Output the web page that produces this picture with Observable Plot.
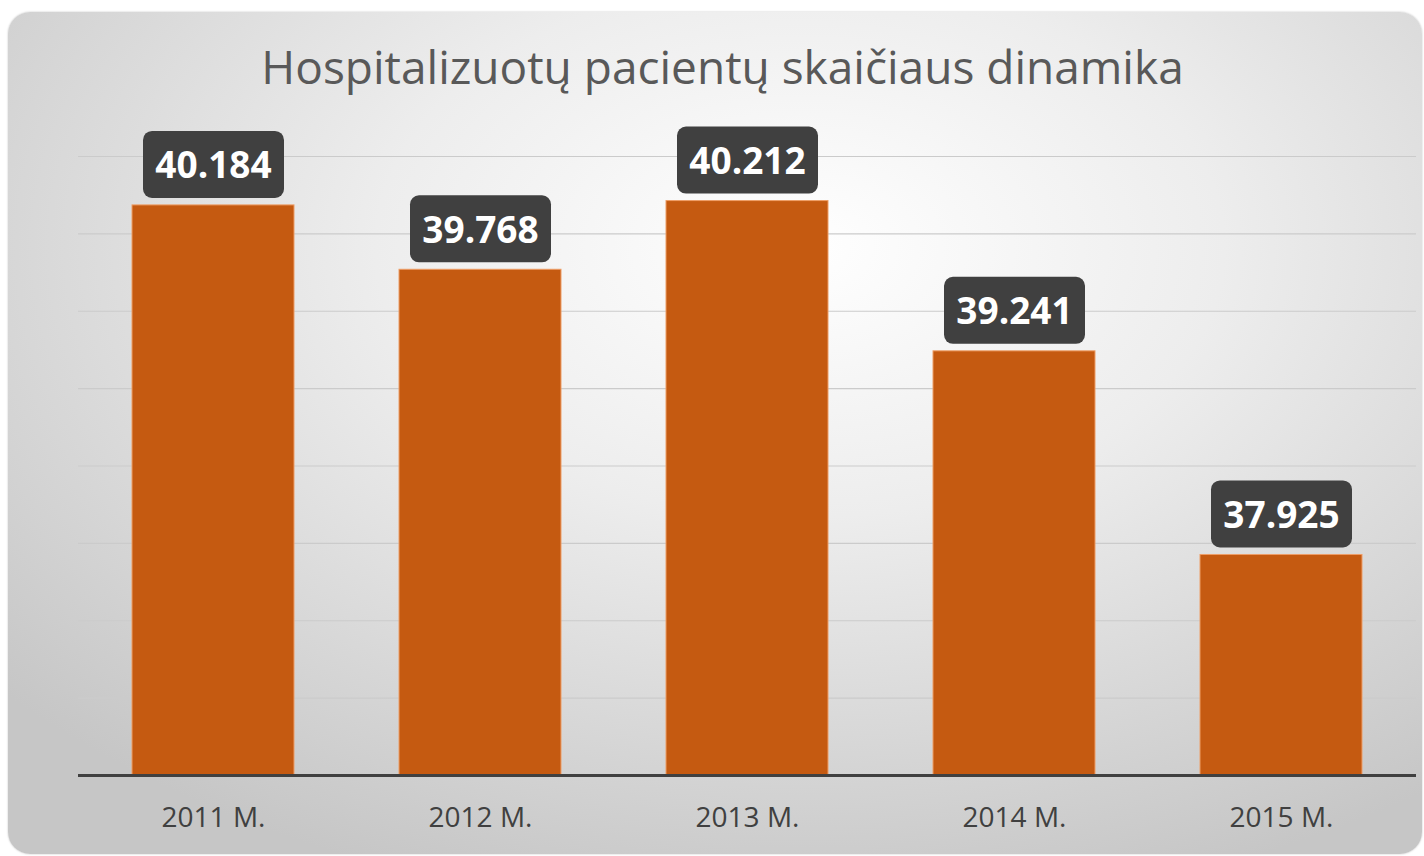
<!DOCTYPE html>
<html>
<head>
<meta charset="utf-8">
<script src="https://cdn.jsdelivr.net/npm/d3@7"></script>
<script src="https://cdn.jsdelivr.net/npm/@observablehq/plot@0.6"></script>
<style>
  html, body { margin: 0; padding: 0; background: #ffffff; }
  body { width: 1424px; height: 856px; position: relative; overflow: hidden; font-family: "Open Sans", sans-serif; }
  #card {
    position: absolute; left: 8px; top: 12px; width: 1414px; height: 842px;
    border-radius: 22px;
    background: radial-gradient(ellipse 75% 80% at 56% 28%, #ffffff 0%, #ededed 40%, #c6c6c6 100%);
    box-shadow: 0 0 2px rgba(0,0,0,0.25);
    overflow: hidden;
  }
  #title {
    position: absolute; left: 0; width: 1429px; top: 31px; text-align: center;
    font-family: "Open Sans", sans-serif; font-size: 46px; line-height: 1; color: #595959; white-space: nowrap;
  }
  #chart { position: absolute; left: 0; top: 98px; }
</style>
</head>
<body>
<div id="card">
  <div id="title">Hospitalizuotų pacientų skaičiaus dinamika</div>
  <div id="chart"></div>
</div>
<script>
const years = ["2011 M.", "2012 M.", "2013 M.", "2014 M.", "2015 M."];
const patients = [40.184, 39.768, 40.212, 39.241, 37.925];
const labels = ["40.184", "39.768", "40.212", "39.241", "37.925"];
const gridValues = [37, 37.5, 38, 38.5, 39, 39.5, 40, 40.5];
const yBase = 36.5;

const data = years.map((y, i) => ({year: y, value: patients[i], label: labels[i]}));

const roundedBox = {
  draw(context) {
    const w = 141, h = 67, r = 9;
    const x0 = -w / 2, y0 = -h / 2, x1 = w / 2, y1 = h / 2;
    context.moveTo(x0 + r, y0);
    context.lineTo(x1 - r, y0);
    context.arcTo(x1, y0, x1, y0 + r, r);
    context.lineTo(x1, y1 - r);
    context.arcTo(x1, y1, x1 - r, y1, r);
    context.lineTo(x0 + r, y1);
    context.arcTo(x0, y1, x0, y1 - r, r);
    context.lineTo(x0, y0 + r);
    context.arcTo(x0, y0, x0 + r, y0, r);
    context.closePath();
  }
};

const plot = Plot.plot({
  width: 1414,
  height: 740,
  marginLeft: 70,
  marginRight: 6,
  marginTop: 46,
  marginBottom: 75,
  style: {background: "transparent", fontFamily: "Open Sans, sans-serif"},
  x: {domain: years, paddingInner: 0.395, paddingOuter: 0.2, label: null},
  y: {domain: [yBase, 40.5], axis: null},
  marks: [
    Plot.ruleY(gridValues, {stroke: "#cbcbcb", strokeWidth: 1.2}),
    Plot.barY(data, {x: "year", y1: yBase, y2: "value", fill: "#C55A11", stroke: "#ee9d66", strokeWidth: 1}),
    Plot.ruleY([yBase], {stroke: "#404040", strokeWidth: 3}),
    Plot.dot(data, {x: "year", y: "value", r: 10, symbol: roundedBox, fill: "#404040", stroke: "none", dy: -41}),
    Plot.text(data, {x: "year", y: "value", text: "label", dy: -39, fill: "#ffffff", fontWeight: "bold", fontSize: 37, lineAnchor: "middle", fontFamily: "Open Sans, sans-serif"}),
    Plot.axisX({tickSize: 0, tickPadding: 32, fontSize: 28, color: "#404040", fill: "#404040", label: null})
  ]
});
document.getElementById("chart").appendChild(plot);
</script>
</body>
</html>
